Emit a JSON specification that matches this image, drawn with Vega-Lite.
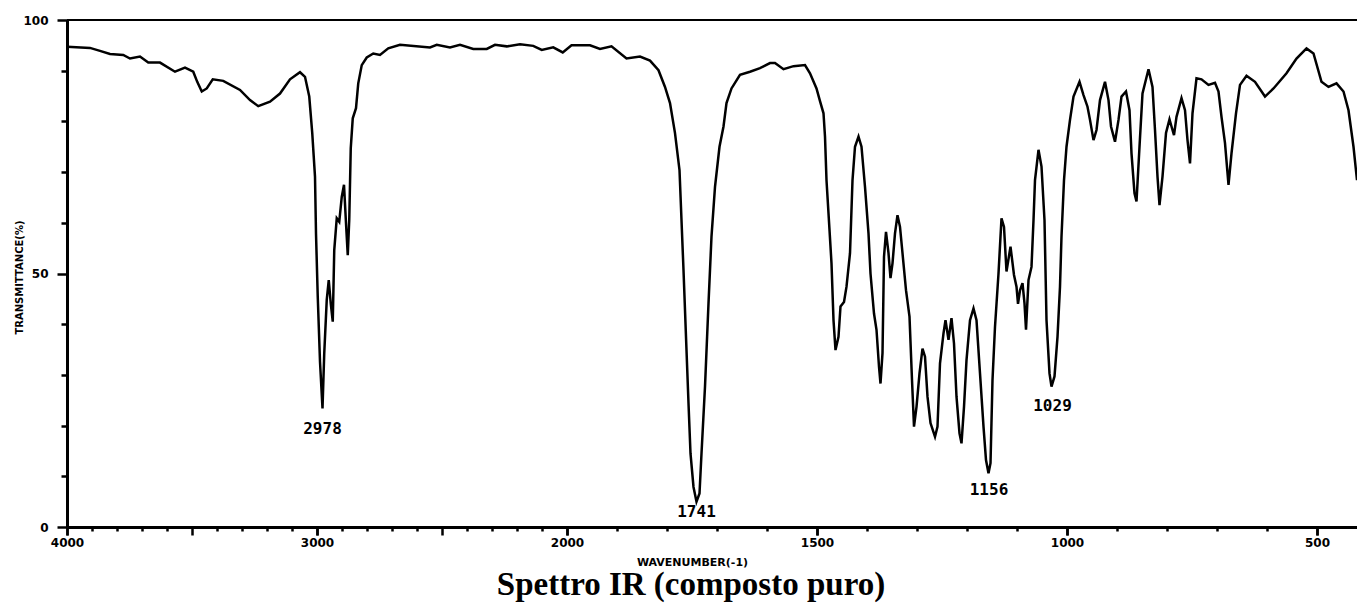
{
  "$schema": "https://vega.github.io/schema/vega-lite/v6.json",
  "width": 1290,
  "height": 507,
  "autosize": {"type": "none"},
  "padding": {"left": 67, "top": 20, "right": 0, "bottom": 77},
  "background": "white",
  "config": {"view": {"stroke": null}},
  "title": {"text": "Spettro IR (composto puro)", "orient": "bottom", "anchor": "middle", "font": "Liberation Serif", "fontSize": 33, "fontWeight": "bold", "color": "black", "offset": 2, "dx": -21, "baseline": "top"},
  "resolve": {"axis": {"x": "independent", "y": "independent"}},
  "datasets": {
    "spectrum": [
      {"wavenumber": 4000, "transmittance": 94.7}, {"wavenumber": 3908, "transmittance": 94.5}, {"wavenumber": 3868, "transmittance": 93.9},
      {"wavenumber": 3828, "transmittance": 93.3}, {"wavenumber": 3775, "transmittance": 93.1}, {"wavenumber": 3748, "transmittance": 92.4},
      {"wavenumber": 3708, "transmittance": 92.8}, {"wavenumber": 3675, "transmittance": 91.6}, {"wavenumber": 3628, "transmittance": 91.6},
      {"wavenumber": 3568, "transmittance": 89.8}, {"wavenumber": 3528, "transmittance": 90.6}, {"wavenumber": 3495, "transmittance": 89.8},
      {"wavenumber": 3479, "transmittance": 87.8}, {"wavenumber": 3461, "transmittance": 85.9}, {"wavenumber": 3441, "transmittance": 86.5},
      {"wavenumber": 3417, "transmittance": 88.3}, {"wavenumber": 3375, "transmittance": 88.0}, {"wavenumber": 3308, "transmittance": 86.2},
      {"wavenumber": 3268, "transmittance": 84.2}, {"wavenumber": 3235, "transmittance": 83.0}, {"wavenumber": 3188, "transmittance": 83.9},
      {"wavenumber": 3148, "transmittance": 85.5}, {"wavenumber": 3108, "transmittance": 88.3}, {"wavenumber": 3068, "transmittance": 89.7},
      {"wavenumber": 3048, "transmittance": 88.8}, {"wavenumber": 3031, "transmittance": 84.9}, {"wavenumber": 3019, "transmittance": 77.7},
      {"wavenumber": 3008, "transmittance": 69.1}, {"wavenumber": 3004, "transmittance": 57.9}, {"wavenumber": 2997, "transmittance": 45.4},
      {"wavenumber": 2988, "transmittance": 32.6}, {"wavenumber": 2978, "transmittance": 23.4}, {"wavenumber": 2971, "transmittance": 34.3},
      {"wavenumber": 2961, "transmittance": 44.8}, {"wavenumber": 2953, "transmittance": 48.7}, {"wavenumber": 2945, "transmittance": 44.1},
      {"wavenumber": 2937, "transmittance": 40.5}, {"wavenumber": 2931, "transmittance": 54.6}, {"wavenumber": 2921, "transmittance": 60.9},
      {"wavenumber": 2911, "transmittance": 60.2}, {"wavenumber": 2901, "transmittance": 65.1}, {"wavenumber": 2892, "transmittance": 67.5},
      {"wavenumber": 2884, "transmittance": 59.9}, {"wavenumber": 2877, "transmittance": 53.6}, {"wavenumber": 2871, "transmittance": 60.6},
      {"wavenumber": 2865, "transmittance": 74.7}, {"wavenumber": 2857, "transmittance": 80.6}, {"wavenumber": 2844, "transmittance": 82.6},
      {"wavenumber": 2835, "transmittance": 87.5}, {"wavenumber": 2821, "transmittance": 91.1}, {"wavenumber": 2801, "transmittance": 92.6},
      {"wavenumber": 2775, "transmittance": 93.4}, {"wavenumber": 2748, "transmittance": 93.1}, {"wavenumber": 2715, "transmittance": 94.4},
      {"wavenumber": 2668, "transmittance": 95.1}, {"wavenumber": 2548, "transmittance": 94.6}, {"wavenumber": 2521, "transmittance": 95.1},
      {"wavenumber": 2468, "transmittance": 94.6}, {"wavenumber": 2428, "transmittance": 95.1}, {"wavenumber": 2375, "transmittance": 94.3},
      {"wavenumber": 2321, "transmittance": 94.3}, {"wavenumber": 2288, "transmittance": 95.1}, {"wavenumber": 2241, "transmittance": 94.8},
      {"wavenumber": 2188, "transmittance": 95.2}, {"wavenumber": 2135, "transmittance": 94.9}, {"wavenumber": 2101, "transmittance": 94.1},
      {"wavenumber": 2055, "transmittance": 94.6}, {"wavenumber": 2017, "transmittance": 93.6}, {"wavenumber": 1991, "transmittance": 95.0},
      {"wavenumber": 1954, "transmittance": 95.0}, {"wavenumber": 1934, "transmittance": 94.3}, {"wavenumber": 1911, "transmittance": 94.8},
      {"wavenumber": 1881, "transmittance": 92.4}, {"wavenumber": 1854, "transmittance": 92.8}, {"wavenumber": 1834, "transmittance": 92.0},
      {"wavenumber": 1817, "transmittance": 90.1}, {"wavenumber": 1804, "transmittance": 86.8}, {"wavenumber": 1794, "transmittance": 83.6},
      {"wavenumber": 1784, "transmittance": 77.7}, {"wavenumber": 1775, "transmittance": 70.4}, {"wavenumber": 1771, "transmittance": 60.5},
      {"wavenumber": 1767, "transmittance": 50.7}, {"wavenumber": 1762, "transmittance": 37.5}, {"wavenumber": 1757, "transmittance": 24.4},
      {"wavenumber": 1753, "transmittance": 14.5}, {"wavenumber": 1747, "transmittance": 7.9}, {"wavenumber": 1741, "transmittance": 5.0},
      {"wavenumber": 1735, "transmittance": 6.6}, {"wavenumber": 1731, "transmittance": 14.5}, {"wavenumber": 1724, "transmittance": 27.7},
      {"wavenumber": 1717, "transmittance": 44.1}, {"wavenumber": 1711, "transmittance": 57.3}, {"wavenumber": 1704, "transmittance": 67.1},
      {"wavenumber": 1695, "transmittance": 75.0}, {"wavenumber": 1687, "transmittance": 79.0}, {"wavenumber": 1681, "transmittance": 83.6},
      {"wavenumber": 1671, "transmittance": 86.5}, {"wavenumber": 1654, "transmittance": 89.2}, {"wavenumber": 1634, "transmittance": 89.8},
      {"wavenumber": 1614, "transmittance": 90.5}, {"wavenumber": 1594, "transmittance": 91.5}, {"wavenumber": 1584, "transmittance": 91.5},
      {"wavenumber": 1567, "transmittance": 90.3}, {"wavenumber": 1547, "transmittance": 90.9}, {"wavenumber": 1524, "transmittance": 91.1},
      {"wavenumber": 1514, "transmittance": 89.5}, {"wavenumber": 1501, "transmittance": 86.5}, {"wavenumber": 1494, "transmittance": 84.0},
      {"wavenumber": 1487, "transmittance": 81.6}, {"wavenumber": 1484, "transmittance": 77.0}, {"wavenumber": 1481, "transmittance": 68.4},
      {"wavenumber": 1475, "transmittance": 58.6}, {"wavenumber": 1471, "transmittance": 52.0}, {"wavenumber": 1467, "transmittance": 40.8},
      {"wavenumber": 1463, "transmittance": 34.9}, {"wavenumber": 1457, "transmittance": 37.5}, {"wavenumber": 1453, "transmittance": 43.5},
      {"wavenumber": 1446, "transmittance": 44.4}, {"wavenumber": 1441, "transmittance": 47.4}, {"wavenumber": 1434, "transmittance": 54.0},
      {"wavenumber": 1429, "transmittance": 68.4}, {"wavenumber": 1424, "transmittance": 75.0}, {"wavenumber": 1417, "transmittance": 77.0},
      {"wavenumber": 1411, "transmittance": 75.0}, {"wavenumber": 1404, "transmittance": 67.1}, {"wavenumber": 1397, "transmittance": 57.9},
      {"wavenumber": 1393, "transmittance": 50.0}, {"wavenumber": 1386, "transmittance": 42.1}, {"wavenumber": 1381, "transmittance": 38.9},
      {"wavenumber": 1376, "transmittance": 31.6}, {"wavenumber": 1373, "transmittance": 28.3}, {"wavenumber": 1369, "transmittance": 34.3},
      {"wavenumber": 1366, "transmittance": 53.3}, {"wavenumber": 1362, "transmittance": 58.2}, {"wavenumber": 1357, "transmittance": 54.0},
      {"wavenumber": 1353, "transmittance": 49.1}, {"wavenumber": 1349, "transmittance": 52.0}, {"wavenumber": 1344, "transmittance": 57.9},
      {"wavenumber": 1339, "transmittance": 61.5}, {"wavenumber": 1334, "transmittance": 59.2}, {"wavenumber": 1329, "transmittance": 54.0},
      {"wavenumber": 1322, "transmittance": 46.7}, {"wavenumber": 1315, "transmittance": 41.5}, {"wavenumber": 1310, "transmittance": 29.0},
      {"wavenumber": 1306, "transmittance": 19.8}, {"wavenumber": 1301, "transmittance": 23.7}, {"wavenumber": 1295, "transmittance": 30.3},
      {"wavenumber": 1289, "transmittance": 35.2}, {"wavenumber": 1284, "transmittance": 33.6}, {"wavenumber": 1279, "transmittance": 25.7},
      {"wavenumber": 1273, "transmittance": 20.5}, {"wavenumber": 1264, "transmittance": 17.8}, {"wavenumber": 1259, "transmittance": 19.8},
      {"wavenumber": 1254, "transmittance": 32.3}, {"wavenumber": 1247, "transmittance": 38.2}, {"wavenumber": 1243, "transmittance": 40.8},
      {"wavenumber": 1237, "transmittance": 36.9}, {"wavenumber": 1231, "transmittance": 41.2}, {"wavenumber": 1226, "transmittance": 36.2},
      {"wavenumber": 1221, "transmittance": 25.7}, {"wavenumber": 1215, "transmittance": 18.5}, {"wavenumber": 1211, "transmittance": 16.5},
      {"wavenumber": 1206, "transmittance": 23.7}, {"wavenumber": 1201, "transmittance": 32.9}, {"wavenumber": 1194, "transmittance": 40.8},
      {"wavenumber": 1187, "transmittance": 43.1}, {"wavenumber": 1181, "transmittance": 40.8}, {"wavenumber": 1174, "transmittance": 30.3},
      {"wavenumber": 1167, "transmittance": 19.8}, {"wavenumber": 1162, "transmittance": 13.2}, {"wavenumber": 1157, "transmittance": 10.6},
      {"wavenumber": 1153, "transmittance": 12.6}, {"wavenumber": 1149, "transmittance": 29.0}, {"wavenumber": 1144, "transmittance": 39.5},
      {"wavenumber": 1137, "transmittance": 50.0}, {"wavenumber": 1131, "transmittance": 60.9}, {"wavenumber": 1126, "transmittance": 59.2},
      {"wavenumber": 1121, "transmittance": 50.4}, {"wavenumber": 1113, "transmittance": 55.3}, {"wavenumber": 1106, "transmittance": 49.7},
      {"wavenumber": 1101, "transmittance": 47.4}, {"wavenumber": 1098, "transmittance": 44.0}, {"wavenumber": 1094, "transmittance": 46.7},
      {"wavenumber": 1089, "transmittance": 48.1}, {"wavenumber": 1085, "transmittance": 44.1}, {"wavenumber": 1082, "transmittance": 38.9},
      {"wavenumber": 1077, "transmittance": 48.7}, {"wavenumber": 1071, "transmittance": 51.3}, {"wavenumber": 1067, "transmittance": 60.5},
      {"wavenumber": 1064, "transmittance": 68.4}, {"wavenumber": 1057, "transmittance": 74.4}, {"wavenumber": 1051, "transmittance": 71.1},
      {"wavenumber": 1045, "transmittance": 60.5}, {"wavenumber": 1041, "transmittance": 40.8}, {"wavenumber": 1035, "transmittance": 30.3},
      {"wavenumber": 1031, "transmittance": 27.7}, {"wavenumber": 1025, "transmittance": 29.7}, {"wavenumber": 1019, "transmittance": 37.5},
      {"wavenumber": 1014, "transmittance": 47.4}, {"wavenumber": 1011, "transmittance": 57.3}, {"wavenumber": 1006, "transmittance": 68.4},
      {"wavenumber": 1001, "transmittance": 75.0}, {"wavenumber": 994, "transmittance": 80.3}, {"wavenumber": 987, "transmittance": 84.9},
      {"wavenumber": 975, "transmittance": 87.8}, {"wavenumber": 967, "transmittance": 85.2}, {"wavenumber": 959, "transmittance": 82.9},
      {"wavenumber": 954, "transmittance": 80.3}, {"wavenumber": 947, "transmittance": 76.3}, {"wavenumber": 941, "transmittance": 78.3},
      {"wavenumber": 934, "transmittance": 84.2}, {"wavenumber": 924, "transmittance": 87.8}, {"wavenumber": 917, "transmittance": 84.2},
      {"wavenumber": 912, "transmittance": 79.0}, {"wavenumber": 904, "transmittance": 76.0}, {"wavenumber": 897, "transmittance": 80.3},
      {"wavenumber": 891, "transmittance": 84.9}, {"wavenumber": 882, "transmittance": 85.9}, {"wavenumber": 875, "transmittance": 82.2},
      {"wavenumber": 871, "transmittance": 73.7}, {"wavenumber": 865, "transmittance": 65.8}, {"wavenumber": 861, "transmittance": 64.2},
      {"wavenumber": 855, "transmittance": 75.0}, {"wavenumber": 849, "transmittance": 85.5}, {"wavenumber": 837, "transmittance": 90.3},
      {"wavenumber": 829, "transmittance": 86.8}, {"wavenumber": 824, "transmittance": 78.3}, {"wavenumber": 819, "transmittance": 69.1},
      {"wavenumber": 815, "transmittance": 63.5}, {"wavenumber": 809, "transmittance": 69.1}, {"wavenumber": 802, "transmittance": 77.7},
      {"wavenumber": 795, "transmittance": 80.4}, {"wavenumber": 791, "transmittance": 79.0}, {"wavenumber": 786, "transmittance": 77.3},
      {"wavenumber": 781, "transmittance": 80.9}, {"wavenumber": 771, "transmittance": 84.6}, {"wavenumber": 764, "transmittance": 82.2},
      {"wavenumber": 759, "transmittance": 76.3}, {"wavenumber": 754, "transmittance": 71.7}, {"wavenumber": 749, "transmittance": 81.6},
      {"wavenumber": 741, "transmittance": 88.5}, {"wavenumber": 731, "transmittance": 88.3}, {"wavenumber": 717, "transmittance": 87.2},
      {"wavenumber": 704, "transmittance": 87.6}, {"wavenumber": 697, "transmittance": 85.9}, {"wavenumber": 691, "transmittance": 80.9},
      {"wavenumber": 684, "transmittance": 75.7}, {"wavenumber": 677, "transmittance": 67.5}, {"wavenumber": 671, "transmittance": 73.7},
      {"wavenumber": 662, "transmittance": 81.6}, {"wavenumber": 654, "transmittance": 87.2}, {"wavenumber": 641, "transmittance": 89.0},
      {"wavenumber": 624, "transmittance": 87.8}, {"wavenumber": 604, "transmittance": 84.9}, {"wavenumber": 587, "transmittance": 86.5},
      {"wavenumber": 561, "transmittance": 89.5}, {"wavenumber": 541, "transmittance": 92.4}, {"wavenumber": 521, "transmittance": 94.4},
      {"wavenumber": 507, "transmittance": 93.4}, {"wavenumber": 491, "transmittance": 87.8}, {"wavenumber": 477, "transmittance": 86.8},
      {"wavenumber": 461, "transmittance": 87.5}, {"wavenumber": 447, "transmittance": 85.9}, {"wavenumber": 437, "transmittance": 82.2},
      {"wavenumber": 427, "transmittance": 75.0}, {"wavenumber": 420, "transmittance": 68.4}
    ],
    "peaks": [
      {"wavenumber": 2978, "transmittance": 19.3, "label": "2978"},
      {"wavenumber": 1741, "transmittance": 3.0, "label": "1741"},
      {"wavenumber": 1156, "transmittance": 7.2, "label": "1156"},
      {"wavenumber": 1029, "transmittance": 23.9, "label": "1029"}
    ]
  },
  "layer": [
    {
      "data": {"name": "spectrum"},
      "mark": {"type": "line", "color": "black", "strokeWidth": 2.5, "clip": true},
      "encoding": {
        "x": {
          "field": "wavenumber", "type": "quantitative",
          "scale": {"domain": [4000, 2000, 420], "range": [0, 500, 1290], "nice": false, "zero": false},
          "axis": {
            "orient": "bottom",
            "title": "WAVENUMBER(-1)",
            "values": [4000, 3000, 2000, 1500, 1000, 500],
            "format": "d",
            "labelFont": "DejaVu Sans", "labelFontWeight": "bold", "labelFontSize": 12, "labelColor": "black",
            "labelPadding": 2, "labelFlush": false, "labelOverlap": false,
            "tickColor": "black", "tickWidth": 2.5, "tickSize": 8,
            "domainColor": "black", "domainWidth": 3, "grid": false,
            "titleFont": "DejaVu Sans", "titleFontSize": 11, "titleFontWeight": "bold", "titleColor": "black",
            "titleX": 625, "titleY": 35, "titleBaseline": "middle"
          }
        },
        "y": {
          "field": "transmittance", "type": "quantitative",
          "scale": {"domain": [0, 100], "nice": false, "zero": false},
          "axis": {
            "orient": "left",
            "title": "TRANSMITTANCE(%)",
            "values": [0, 10, 20, 30, 40, 50, 60, 70, 80, 90, 100],
            "labelExpr": "datum.value % 50 === 0 ? datum.label : ''",
            "labelFont": "DejaVu Sans", "labelFontWeight": "bold", "labelFontSize": 12, "labelColor": "black",
            "labelPadding": 9, "labelOverlap": false,
            "tickColor": "black", "tickWidth": 2.5,
            "tickSize": {"condition": {"test": "datum.value % 50 === 0", "value": 10}, "value": 6},
            "domainColor": "black", "domainWidth": 3, "grid": false,
            "titleFont": "DejaVu Sans", "titleFontSize": 10, "titleFontWeight": "bold", "titleColor": "black",
            "titleX": -48, "titleY": 257, "titleBaseline": "middle"
          }
        }
      }
    },
    {
      "data": {"values": [{"level": 100}]},
      "mark": {"type": "rule", "color": "black", "strokeWidth": 2},
      "encoding": {"y": {"field": "level", "type": "quantitative", "axis": null}}
    },
    {
      "data": {"name": "peaks"},
      "mark": {"type": "text", "font": "DejaVu Sans Mono", "fontSize": 16, "fontWeight": "bold", "color": "black", "baseline": "middle", "align": "center"},
      "encoding": {
        "x": {
          "field": "wavenumber", "type": "quantitative",
          "axis": {
            "orient": "bottom", "title": null, "labels": false, "domain": false, "grid": false,
            "values": [4000, 3900, 3800, 3700, 3600, 3500, 3400, 3300, 3200, 3100, 3000, 2900, 2800, 2700, 2600, 2500, 2400, 2300, 2200, 2100, 2000, 1900, 1800, 1700, 1600, 1500, 1400, 1300, 1200, 1100, 1000, 900, 800, 700, 600, 500],
            "tickColor": "black", "tickWidth": 2.5,
            "tickSize": {"condition": {"test": "datum.value % 500 === 0", "value": 8}, "value": 4}
          }
        },
        "y": {"field": "transmittance", "type": "quantitative", "axis": null},
        "text": {"field": "label"}
      }
    }
  ]
}
